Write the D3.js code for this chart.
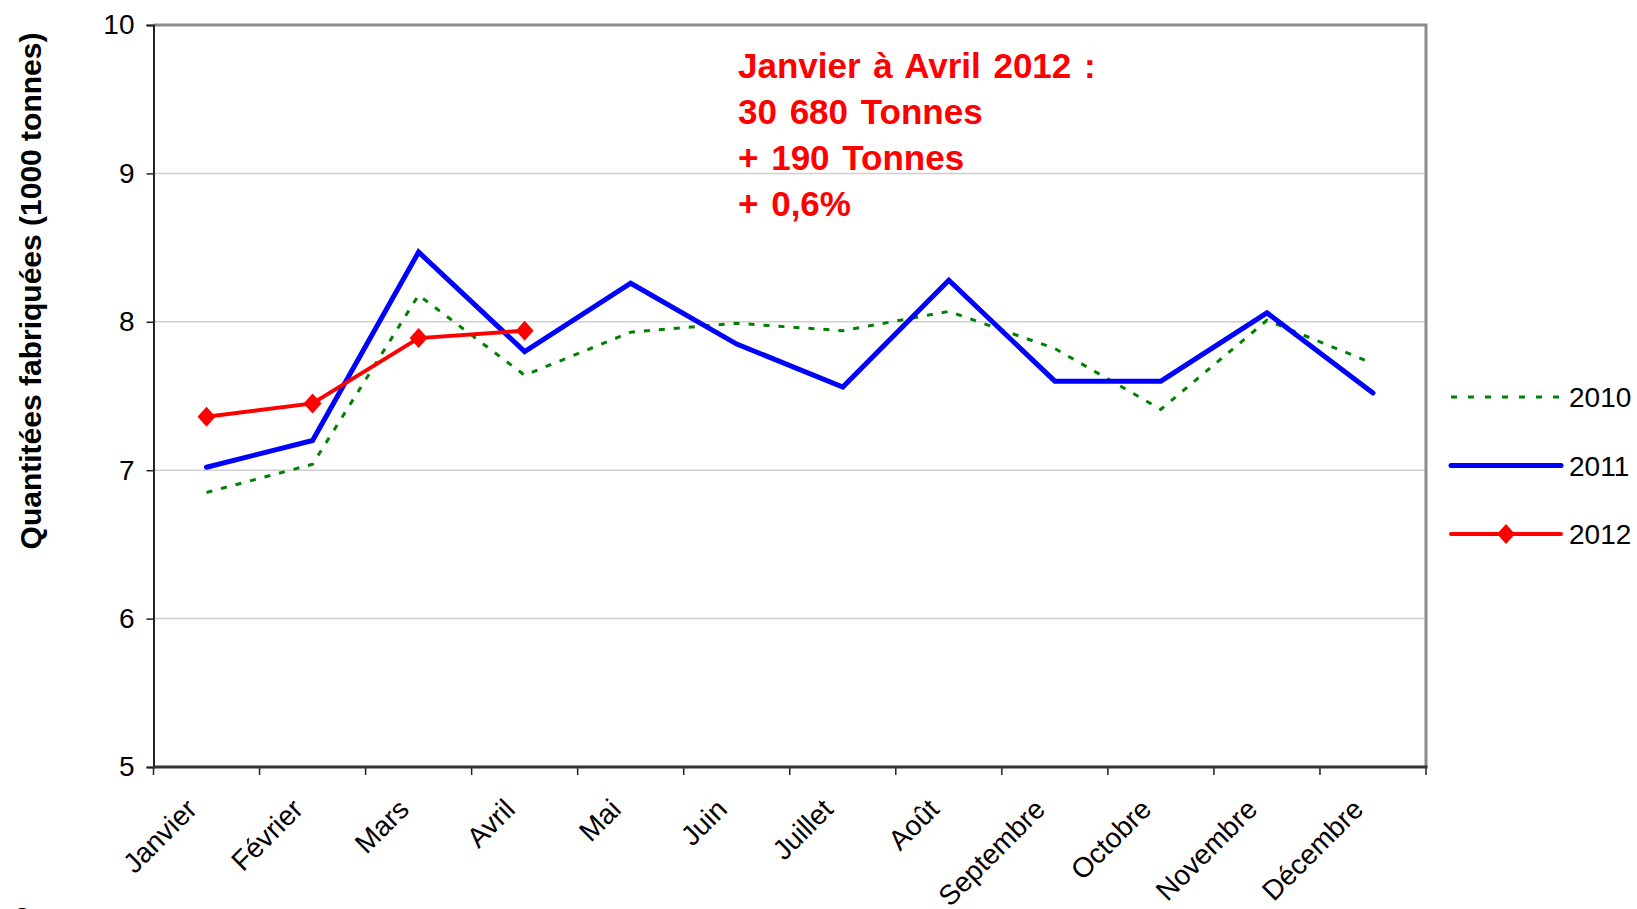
<!DOCTYPE html>
<html>
<head>
<meta charset="utf-8">
<script src="https://cdnjs.cloudflare.com/ajax/libs/d3/7.8.5/d3.min.js"></script>
<style>
  body { margin: 0; background: #fff; }
  svg { display: block; font-family: "Liberation Sans", Arial, sans-serif; }
</style>
</head>
<body>
<svg id="chart" width="1637" height="909"></svg>
<script>
// mois
var months = ["Janvier", "Février", "Mars", "Avril", "Mai", "Juin", "Juillet",
              "Août", "Septembre", "Octobre", "Novembre", "Décembre"];
// quantités fabriquées, milliers de tonnes
var values2010 = [6.85, 7.04, 8.18, 7.64, 7.93, 7.99, 7.94, 8.07, 7.82, 7.41, 8.01, 7.72];
var values2011 = [7.02, 7.20, 8.47, 7.80, 8.26, 7.85, 7.56, 8.28, 7.60, 7.60, 8.06, 7.52];
var values2012 = [7.36, 7.45, 7.89, 7.94];
var yTicks = [5, 6, 7, 8, 9, 10];
var noteLines = ["Janvier à Avril 2012 :", "30 680 Tonnes", "+ 190 Tonnes", "+ 0,6%"];

var series = [
  { name: "2010", values: values2010, color: "#008000", width: 3, dash: "6,9", marker: false },
  { name: "2011", values: values2011, color: "#0000ff", width: 5, dash: null, marker: false },
  { name: "2012", values: values2012, color: "#ff0000", width: 4, dash: null, marker: true }
];

var diamond = "M0,-10L9,0L0,10L-9,0Z";

var svg = d3.select("#chart");
var pLeft = 153.5, pRight = 1426, pTop = 25, pBottom = 767;

var x = d3.scaleBand().domain(months).range([pLeft, pRight]);
var y = d3.scaleLinear().domain([5, 10]).range([pBottom, pTop]);

// grille
svg.selectAll(".grid")
    .data(yTicks.filter(function(d){ return d > 5 && d < 10; }))
    .enter()
    .append("line")
    .attr("class", "grid")
    .attr("x1", pLeft).attr("x2", pRight)
    .attr("y1", function(d){ return y(d); })
    .attr("y2", function(d){ return y(d); })
    .style("stroke", "#cfcfcf")
    .style("stroke-width", 1.5);

// cadre haut et droite
svg.append("path")
    .attr("d", "M" + pLeft + "," + pTop + "H" + pRight + "V" + pBottom)
    .style("fill", "none")
    .style("stroke", "#8c8c8c")
    .style("stroke-width", 3);

// axe Y
var yAxis = svg.append("g")
    .attr("transform", "translate(" + pLeft + ",0)")
    .call(d3.axisLeft(y).tickValues(yTicks).tickSize(7).tickPadding(12).tickFormat(d3.format("d")));
yAxis.select(".domain").style("stroke", "#222").style("stroke-width", 2);
yAxis.selectAll(".tick line").style("stroke", "#222").style("stroke-width", 1.5);
yAxis.selectAll("text").style("font-size", "28px").style("fill", "#000")
    .attr("font-family", "Liberation Sans, Arial, sans-serif");

// axe X (graduations entre les catégories)
var xTickPos = d3.scaleLinear().domain([0, 12]).range([pLeft, pRight]);
svg.append("g").selectAll("line")
    .data(d3.range(13))
    .enter()
    .append("line")
    .attr("x1", function(d){ return xTickPos(d); })
    .attr("x2", function(d){ return xTickPos(d); })
    .attr("y1", pBottom).attr("y2", pBottom + 8)
    .style("stroke", "#222")
    .style("stroke-width", 1.5);
svg.append("line")
    .attr("x1", pLeft).attr("x2", pRight + 1.5)
    .attr("y1", pBottom).attr("y2", pBottom)
    .style("stroke", "#333")
    .style("stroke-width", 3);

svg.append("g").selectAll("text")
    .data(months)
    .enter()
    .append("text")
    .attr("transform", function(d){
        return "translate(" + (x(d) + x.bandwidth() / 2 - 8) + "," + (pBottom + 44) + ") rotate(-45)";
    })
    .attr("text-anchor", "end")
    .style("font-size", "28px")
    .text(function(d){ return d; });

// titre axe Y
svg.append("text")
    .attr("transform", "translate(41,291) rotate(-90)")
    .attr("text-anchor", "middle")
    .style("font-size", "30px")
    .style("font-weight", "bold")
    .text("Quantitées fabriquées (1000 tonnes)");

// courbes
var line = d3.line()
    .x(function(d, i){ return x(months[i]) + x.bandwidth() / 2; })
    .y(function(d){ return y(d); });

series.forEach(function(s){
    svg.append("path")
        .datum(s.values)
        .attr("d", line)
        .style("fill", "none")
        .style("stroke", s.color)
        .style("stroke-width", s.width)
        .style("stroke-dasharray", s.dash)
        .style("stroke-linejoin", "miter")
        .style("stroke-linecap", s.dash ? "butt" : "round");
    if (s.marker) {
        svg.selectAll(".m" + s.name)
            .data(s.values)
            .enter()
            .append("path")
            .attr("class", "m" + s.name)
            .attr("d", diamond)
            .attr("transform", function(d, i){
                return "translate(" + (x(months[i]) + x.bandwidth() / 2) + "," + y(d) + ")";
            })
            .style("fill", s.color);
    }
});

// légende
var legend = svg.append("g").selectAll("g")
    .data(series)
    .enter()
    .append("g")
    .attr("transform", function(d, i){ return "translate(1451," + (397 + 68.5 * i) + ")"; });
legend.append("line")
    .attr("x1", 0).attr("x2", 110)
    .style("stroke", function(d){ return d.color; })
    .style("stroke-width", function(d){ return d.width; })
    .style("stroke-dasharray", function(d){ return d.dash ? "6,11" : null; })
    .style("stroke-linecap", function(d){ return d.dash ? "butt" : "round"; });
legend.filter(function(d){ return d.marker; })
    .append("path")
    .attr("d", diamond)
    .attr("transform", "translate(55,0)")
    .style("fill", function(d){ return d.color; });
legend.append("text")
    .attr("x", 118).attr("y", 10)
    .style("font-size", "28px")
    .text(function(d){ return d.name; });

// encadré
svg.append("g").selectAll("text")
    .data(noteLines)
    .enter()
    .append("text")
    .attr("x", 738)
    .attr("y", function(d, i){ return 78 + 46 * i; })
    .style("font-size", "35px")
    .style("font-weight", "bold")
    .style("fill", "#ff0000")
    .style("word-spacing", "3px")
    .text(function(d){ return d; });

// source (coupée en bas)
svg.append("text")
    .attr("x", 14).attr("y", 925)
    .style("font-size", "24px")
    .style("fill", "#000")
    .text("Source :");
</script>
</body>
</html>
